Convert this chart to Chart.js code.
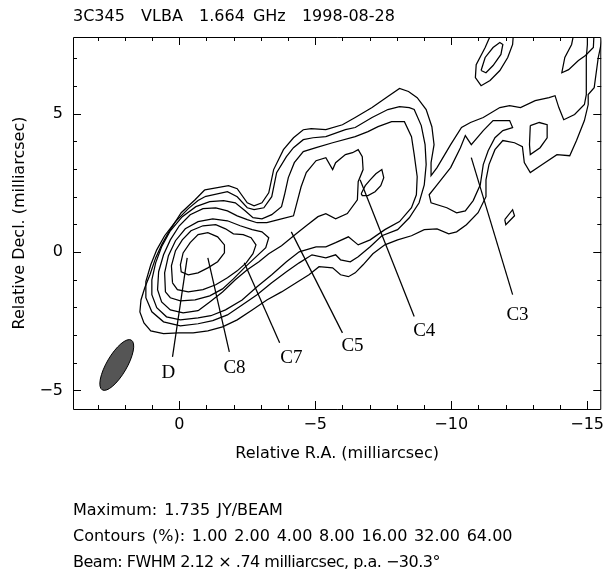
<!DOCTYPE html>
<html>
<head>
<meta charset="utf-8">
<title>3C345 VLBA 1.664 GHz</title>
<script src="https://cdn.jsdelivr.net/npm/chart.js@4.4.1/dist/chart.umd.min.js"></script>
<style>
  html, body { margin: 0; padding: 0; background: #fff; }
</style>
</head>
<body>
<canvas id="vlbiMap" width="610" height="569"></canvas>
<script>
// 3C345 map, contours (RA, Dec in milliarcsec)
const titleText = '3C345  VLBA  1.664 GHz  1998-08-28';
const noteLines = [
  'Maximum: 1.735 JY/BEAM',
  'Contours (%): 1.00 2.00 4.00 8.00 16.00 32.00 64.00',
  'Beam: FWHM 2.12 \u00d7 .74 milliarcsec, p.a. \u221230.3\u00b0'
];

const raRange = [-15.52, 3.91];
const decRange = [-5.67, 7.77];
const raTicks = [0, -5, -10, -15];
const decTicks = [5, 0, -5];

// contour levels around the core and along the jet
const lev64 = [[-0.04,-0.46],[-0.14,-0.03],[-0.40,0.34],[-0.69,0.63],[-1.05,0.70],[-1.41,0.55],[-1.66,0.26],[-1.66,-0.03],[-1.41,-0.35],[-1.05,-0.57],[-0.69,-0.75],[-0.33,-0.82],[-0.07,-0.71]];
const lev32 = [[0.25,-1.11],[0.29,-0.50],[0.14,0.05],[-0.11,0.44],[-0.43,0.77],[-0.87,0.95],[-1.34,0.99],[-1.70,0.84],[-1.99,0.66],[-2.35,0.63],[-2.64,0.52],[-2.82,0.26],[-2.71,-0.06],[-2.46,-0.39],[-2.13,-0.68],[-1.77,-0.93],[-1.34,-1.18],[-0.87,-1.36],[-0.33,-1.44],[0.07,-1.36]];
const lev16 = [[0.51,-1.44],[0.54,-0.75],[0.40,-0.13],[0.14,0.41],[-0.22,0.84],[-0.69,1.10],[-1.23,1.20],[-1.77,1.13],[-2.24,0.95],[-2.68,0.81],[-3.04,0.73],[-3.29,0.52],[-3.18,0.16],[-2.78,-0.21],[-2.39,-0.57],[-1.99,-0.97],[-1.59,-1.33],[-1.12,-1.58],[-0.58,-1.73],[-0.04,-1.76],[0.33,-1.65]];
const lev8 = [[-0.69,-2.12],[-0.14,-2.20],[0.33,-2.09],[0.65,-1.80],[0.80,-1.36],[0.76,-0.71],[0.58,-0.10],[0.33,0.44],[0.00,0.95],[-0.40,1.35],[-0.87,1.57],[-1.34,1.60],[-1.77,1.49],[-2.13,1.31],[-2.50,1.17],[-2.86,1.06],[-3.22,1.06],[-3.65,1.17],[-4.20,1.31],[-4.48,2.36],[-4.67,2.87],[-5.03,3.30],[-5.39,3.41],[-5.64,2.98],[-5.75,3.23],[-6.11,3.52],[-6.37,3.59],[-6.58,3.70],[-6.73,3.45],[-6.76,2.98],[-6.58,2.54],[-6.55,1.89],[-6.18,1.39],[-5.75,1.20],[-5.39,1.39],[-5.10,1.28],[-4.67,0.95],[-4.30,0.66],[-3.76,0.23],[-3.29,-0.06],[-2.93,-0.35],[-2.50,-0.64],[-2.06,-1.00],[-1.59,-1.44],[-1.12,-1.80]];
const lev4 = [[-0.69,-2.38],[-0.04,-2.45],[0.47,-2.34],[0.83,-2.01],[1.01,-1.54],[1.01,-1.00],[0.87,-0.39],[0.65,0.19],[0.33,0.77],[-0.11,1.28],[-0.61,1.64],[-1.12,1.82],[-1.63,1.86],[-2.06,1.78],[-2.42,1.49],[-2.71,1.24],[-3.04,1.20],[-3.40,1.35],[-3.76,1.64],[-3.87,2.07],[-4.01,2.69],[-4.23,3.23],[-4.56,3.63],[-5.03,3.77],[-5.64,3.95],[-6.47,4.17],[-6.94,4.35],[-7.31,4.53],[-7.81,4.71],[-8.28,4.71],[-8.54,4.17],[-8.64,3.52],[-8.75,2.72],[-8.72,2.07],[-8.54,1.60],[-8.10,1.10],[-7.56,0.81],[-7.02,0.44],[-6.58,0.26],[-6.22,0.55],[-5.75,0.34],[-5.39,0.19],[-5.03,0.19],[-4.41,0.01],[-3.94,-0.35],[-3.40,-0.82],[-2.86,-1.25],[-2.31,-1.73],[-1.70,-2.09],[-1.16,-2.30]];
const lev2 = [[-0.94,2.00],[-1.77,2.18],[-2.13,2.00],[-2.50,1.60],[-2.75,1.53],[-3.11,1.60],[-3.40,2.00],[-3.58,2.87],[-3.94,3.45],[-4.20,3.77],[-4.56,4.06],[-4.92,4.13],[-5.39,4.17],[-6.11,4.42],[-6.47,4.50],[-7.09,4.86],[-7.67,5.15],[-8.10,5.25],[-8.46,5.22],[-8.64,5.15],[-8.90,4.57],[-9.04,3.88],[-9.08,3.16],[-9.01,2.43],[-8.82,1.78],[-8.46,1.24],[-8.03,0.81],[-7.45,0.59],[-7.02,0.19],[-6.58,-0.17],[-6.29,-0.35],[-5.93,-0.28],[-5.75,-0.10],[-5.39,-0.21],[-4.88,-0.10],[-4.41,-0.39],[-3.94,-0.71],[-3.40,-1.11],[-2.86,-1.54],[-2.31,-1.91],[-1.77,-2.27],[-1.23,-2.48],[-0.69,-2.59],[-0.04,-2.67],[0.58,-2.52],[1.01,-2.16],[1.23,-1.65],[1.23,-1.07],[1.05,-0.46],[0.83,0.08],[0.54,0.59],[0.14,1.10],[-0.33,1.57],[-0.69,1.86]];
const lev1 = [[-0.94,2.25],[-1.81,2.40],[-2.13,2.29],[-2.50,1.78],[-2.75,1.67],[-3.04,1.78],[-3.29,2.14],[-3.47,2.98],[-3.83,3.70],[-4.20,4.13],[-4.56,4.42],[-4.85,4.46],[-5.39,4.42],[-6.00,4.60],[-6.47,4.86],[-7.09,5.22],[-7.67,5.62],[-8.10,5.91],[-8.43,5.80],[-8.75,5.58],[-9.08,5.15],[-9.29,4.53],[-9.37,3.88],[-9.26,3.23],[-9.26,2.76],[-9.48,3.05],[-9.98,3.88],[-10.38,4.50],[-10.71,4.68],[-11.18,4.86],[-11.79,5.22],[-12.15,5.29],[-12.55,5.22],[-13.09,5.47],[-13.60,5.58],[-13.82,5.65],[-13.96,5.22],[-14.14,4.78],[-14.54,4.97],[-14.90,5.33],[-14.97,5.69],[-14.97,7.03],[-15.01,7.50],[-15.01,8.04],[-15.44,8.04],[-15.59,7.86],[-15.41,7.03],[-15.26,5.94],[-15.04,5.69],[-15.04,5.33],[-14.90,4.75],[-14.61,4.03],[-14.36,3.48],[-13.89,3.52],[-13.35,3.16],[-12.91,2.87],[-12.69,3.23],[-12.62,3.81],[-12.33,3.95],[-11.90,4.03],[-11.61,3.70],[-11.39,3.16],[-11.28,2.61],[-11.28,2.00],[-10.99,1.42],[-10.56,0.99],[-10.20,0.73],[-9.91,0.66],[-9.48,0.84],[-9.01,0.81],[-8.54,0.59],[-8.03,0.44],[-7.56,0.26],[-7.12,-0.06],[-6.76,-0.46],[-6.47,-0.75],[-6.22,-0.89],[-5.93,-0.82],[-5.64,-0.57],[-5.14,-0.53],[-4.77,-0.82],[-4.30,-1.11],[-3.76,-1.44],[-3.22,-1.73],[-2.68,-2.09],[-2.13,-2.45],[-1.59,-2.70],[-1.05,-2.85],[-0.51,-2.92],[0.04,-2.92],[0.58,-2.95],[1.05,-2.85],[1.30,-2.56],[1.45,-2.16],[1.41,-1.73],[1.27,-1.29],[1.08,-0.82],[0.87,-0.21],[0.65,0.26],[0.40,0.70],[-0.07,1.42],[-0.58,1.89]];

// separate islands
const c3Lev2 = [[-9.98,3.05],[-10.34,3.77],[-10.52,4.21],[-10.74,3.88],[-11.18,4.39],[-11.54,4.75],[-12.15,4.75],[-12.26,4.50],[-11.90,4.39],[-11.61,4.13],[-11.36,3.66],[-11.18,3.16],[-11.07,2.43],[-10.81,1.86],[-10.52,1.49],[-10.20,1.42],[-9.84,1.60],[-9.26,1.78],[-9.19,2.07],[-9.48,2.43]];
const c4Lev8 = [[-6.69,2.11],[-6.84,2.40],[-7.02,2.61],[-7.23,2.83],[-7.45,2.98],[-7.52,2.69],[-7.41,2.40],[-7.20,2.18],[-6.94,2.04],[-6.73,2.04]];
const islandE = [[-12.91,4.57],[-13.24,4.68],[-13.53,4.60],[-13.53,4.13],[-13.27,3.77],[-12.91,3.52],[-12.88,3.88]];
const islandS = [[-11.97,1.17],[-12.26,1.53],[-12.33,1.31],[-12.01,0.99]];
const topInner = [[-11.10,6.56],[-11.25,7.03],[-11.54,7.39],[-11.79,7.57],[-11.90,7.50],[-11.83,7.14],[-11.54,6.74],[-11.28,6.48]];
// these two run off the top edge
const topOuter = [[-11.54,8.04],[-11.25,7.39],[-10.92,6.77],[-10.89,6.30],[-11.10,6.01],[-11.43,6.20],[-11.79,6.56],[-12.08,7.03],[-12.26,7.50],[-12.30,8.04]];
const topRight = [[-14.54,8.04],[-14.43,7.50],[-14.18,7.03],[-14.07,6.48],[-14.32,6.59],[-14.68,6.92],[-14.94,7.10],[-15.23,7.39],[-15.26,8.04]];

// component labels: pointer tip, pointer tail, text position
const compNames = ['D', 'C8', 'C7', 'C5', 'C4', 'C3'];
const tipRA = [-0.29, -1.05, -2.39, -4.12, -6.65, -10.74];
const tipDec = [-0.21, -0.21, -0.39, 0.73, 2.61, 3.41];
const tailRA = [0.25, -1.84, -3.69, -6.00, -8.64, -12.26];
const tailDec = [-3.79, -3.61, -3.28, -2.92, -2.33, -1.54];
const textRA = [0.40, -2.03, -4.12, -6.37, -9.01, -12.44];
const textDec = [-4.37, -4.18, -3.82, -3.39, -2.85, -2.27];

// restoring beam
const beamRA = 2.30, beamDec = -4.08, beamMaj = 2.12, beamMin = 0.74, beamPA = -30.3;

const closed = pts => pts.concat([pts[0]]).map(p => ({ x: p[0], y: p[1] }));
const open = pts => pts.map(p => ({ x: p[0], y: p[1] }));
const lineSet = data => ({
  data, showLine: true, borderColor: '#000', borderWidth: 1.25,
  pointRadius: 0, fill: false, tension: 0
});

const datasets = [lev64, lev32, lev16, lev8, lev4, lev2, lev1,
  c3Lev2, c4Lev8, islandE, islandS, topInner].map(c => lineSet(closed(c)));
datasets.push(lineSet(open(topOuter)), lineSet(open(topRight)));
compNames.forEach((n, i) => {
  datasets.push(lineSet(open([[tipRA[i], tipDec[i]], [tailRA[i], tailDec[i]]])));
});

const sansFont = 'DejaVu Sans';
const minus = v => (v < 0 ? '\u2212' + (-v) : String(v));

// the plotting font has wide spaces; stretch the text lines a little
function spacedText(ctx, text, x, y, word, letter) {
  ctx.wordSpacing = word + 'px';
  ctx.letterSpacing = letter + 'px';
  ctx.fillText(text, x, y);
  ctx.wordSpacing = '0px';
  ctx.letterSpacing = '0px';
}

// frame, inward ticks, beam, labels and text
const decor = {
  id: 'decor',
  beforeDatasetsDraw(chart) {
    const { ctx, scales: { x, y } } = chart;
    const scale = Math.abs(x.getPixelForValue(1) - x.getPixelForValue(0));
    ctx.save();
    ctx.beginPath();
    ctx.ellipse(x.getPixelForValue(beamRA), y.getPixelForValue(beamDec),
      beamMin / 2 * scale, beamMaj / 2 * scale, -beamPA * Math.PI / 180, 0, 2 * Math.PI);
    ctx.fillStyle = '#555';
    ctx.fill();
    ctx.lineWidth = 1;
    ctx.strokeStyle = '#000';
    ctx.stroke();
    ctx.restore();
  },
  afterDraw(chart) {
    const { ctx, chartArea: a, scales: { x, y } } = chart;
    ctx.save();
    ctx.strokeStyle = '#000';
    ctx.lineWidth = 1;
    ctx.beginPath();
    ctx.moveTo(a.left + 0.5, a.top + 0.5);
    ctx.lineTo(a.right - 0.5, a.top + 0.5);
    ctx.lineTo(a.right - 0.5, a.bottom + 0.5);
    ctx.lineTo(a.left + 0.5, a.bottom + 0.5);
    ctx.closePath();
    ctx.stroke();

    ctx.beginPath();
    for (let v = Math.ceil(raRange[0]); v <= Math.floor(raRange[1]); v++) {
      const px = Math.round(x.getPixelForValue(v)) + 0.5;
      const len = v % 5 === 0 ? 8 : 4;
      ctx.moveTo(px, a.bottom); ctx.lineTo(px, a.bottom - len);
      ctx.moveTo(px, a.top); ctx.lineTo(px, a.top + len);
    }
    for (let v = Math.ceil(decRange[0]); v <= Math.floor(decRange[1]); v++) {
      const py = Math.round(y.getPixelForValue(v)) + 0.5;
      const len = v % 5 === 0 ? 8 : 4;
      ctx.moveTo(a.left, py); ctx.lineTo(a.left + len, py);
      ctx.moveTo(a.right, py); ctx.lineTo(a.right - len, py);
    }
    ctx.stroke();

    ctx.fillStyle = '#000';
    ctx.textAlign = 'center';
    ctx.textBaseline = 'middle';
    ctx.font = '19px "Liberation Serif"';
    compNames.forEach((n, i) => {
      ctx.fillText(n, x.getPixelForValue(textRA[i]), y.getPixelForValue(textDec[i]));
    });

    ctx.textAlign = 'left';
    ctx.font = '16px "' + sansFont + '"';
    spacedText(ctx, titleText, 73, 17, 3, 0);
    spacedText(ctx, noteLines[0], 73, 511, 2, 0);
    spacedText(ctx, noteLines[1], 73, 537, 1.7, 0);
    spacedText(ctx, noteLines[2], 73, 563, 0, -0.5);
    ctx.restore();
  }
};

const axisFont = { family: sansFont, size: 16 };

new Chart(document.getElementById('vlbiMap'), {
  type: 'scatter',
  data: { datasets },
  options: {
    responsive: false,
    animation: false,
    events: [],
    layout: { padding: { left: 0, right: 0, top: 37, bottom: 102 } },
    plugins: { legend: { display: false }, tooltip: { enabled: false } },
    scales: {
      x: {
        type: 'linear', min: raRange[0], max: raRange[1], reverse: true,
        grid: { display: false, drawTicks: false }, border: { display: false },
        afterBuildTicks: s => { s.ticks = raTicks.map(v => ({ value: v })); },
        afterFit: s => { s.height = 58; },
        ticks: { padding: 6, color: '#000', font: axisFont, maxRotation: 0, autoSkip: false, callback: minus },
        title: { display: true, text: 'Relative R.A. (milliarcsec)', color: '#000', font: axisFont, padding: { top: 0, bottom: 4 } }
      },
      y: {
        type: 'linear', min: decRange[0], max: decRange[1],
        grid: { display: false, drawTicks: false }, border: { display: false },
        afterBuildTicks: s => { s.ticks = decTicks.map(v => ({ value: v })); },
        afterFit: s => { s.width = 73; },
        ticks: { padding: 10, color: '#000', font: axisFont, autoSkip: false, callback: minus },
        title: { display: true, text: 'Relative Decl. (milliarcsec)', color: '#000', font: axisFont, padding: { top: 10, bottom: 0 } }
      }
    }
  },
  plugins: [decor]
});
</script>
</body>
</html>
